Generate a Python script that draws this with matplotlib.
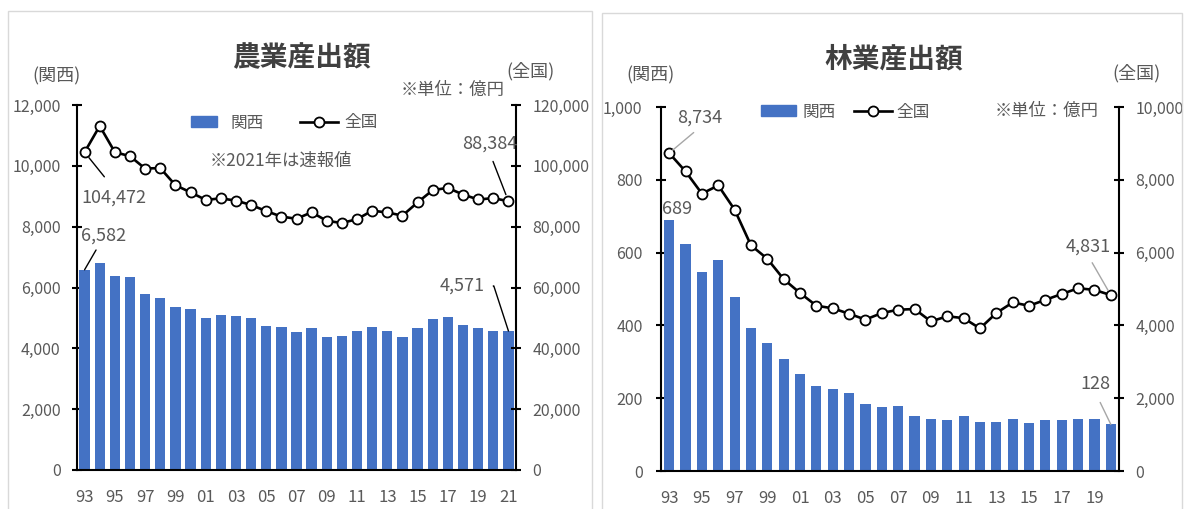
import matplotlib
matplotlib.use('Agg')
import matplotlib.pyplot as plt
from matplotlib.patches import Rectangle, Patch
from matplotlib.lines import Line2D
import numpy as np

plt.rcParams['font.family'] = ['Noto Sans CJK JP', 'DejaVu Sans']

W, H = 1184, 509
BLUE = '#4472C4'
GRAY = '#595959'

#--------------------------------------------------------------------
# data (億円)
agri_years = ['93', '94', '95', '96', '97', '98', '99', '00', '01', '02',
              '03', '04', '05', '06', '07', '08', '09', '10', '11', '12',
              '13', '14', '15', '16', '17', '18', '19', '20', '21']
agri_kansai = [6582, 6790, 6370, 6330, 5800, 5660, 5370, 5300, 5000, 5110,
               5070, 5000, 4740, 4710, 4530, 4680, 4380, 4410, 4570, 4700,
               4570, 4380, 4680, 4970, 5040, 4770, 4660, 4560, 4571]
agri_zenkoku = [104472, 113103, 104498, 103166, 99113, 99264, 93638, 91295,
                88813, 89297, 88565, 87136, 85119, 83322, 82585, 84736, 81902,
                81214, 82463, 85251, 84668, 83639, 87979, 92025, 92742, 90558,
                88938, 89370, 88384]

forest_years = ['93', '94', '95', '96', '97', '98', '99', '00', '01', '02',
                '03', '04', '05', '06', '07', '08', '09', '10', '11', '12',
                '13', '14', '15', '16', '17', '18', '19', '20']
forest_kansai = [689, 623, 548, 580, 477, 392, 352, 308, 267, 234, 224, 215,
                 185, 176, 179, 152, 144, 140, 152, 135, 135, 142, 132, 139,
                 139, 144, 144, 128]
forest_zenkoku = [8734, 8230, 7620, 7845, 7180, 6200, 5830, 5270, 4890, 4540,
                  4470, 4320, 4160, 4340, 4430, 4450, 4110, 4250, 4200, 3917,
                  4340, 4630, 4540, 4702, 4863, 5020, 4976, 4831]

agri_lticks = [0, 2000, 4000, 6000, 8000, 10000, 12000]
agri_rticks = [0, 20000, 40000, 60000, 80000, 100000, 120000]
forest_lticks = [0, 200, 400, 600, 800, 1000]
forest_rticks = [0, 2000, 4000, 6000, 8000, 10000]


def ftext(x, y, s, **kw):
    # place text by image pixel position (y from top)
    kw.setdefault('color', GRAY)
    fig.text(x / W, 1 - y / H, s, **kw)


#--------------------------------------------------------------------
def panel(px, years, kansai, zenkoku, lticks, rticks, lpad, bw):
    x0, x1, ytop, ybot = px
    ax = fig.add_axes([x0 / W, 1 - ybot / H, (x1 - x0) / W, (ybot - ytop) / H])
    x = np.arange(len(years))
    ax.bar(x, kansai, width=bw, color=BLUE, zorder=2)
    ax.set_xlim(-0.5, len(years) - 0.5)
    ax.set_ylim(lticks[0], lticks[-1])
    ax.set_yticks(lticks)
    ax.set_yticklabels([f'{v:,}' for v in lticks])
    ax.set_xticks(x[::2])
    ax.set_xticklabels(years[::2])

    ax2 = ax.twinx()
    ax2.plot(x, zenkoku, color='k', lw=1.9, marker='o', ms=7.2,
             mfc='white', mec='k', mew=1.3, zorder=3, clip_on=False)
    ax2.set_ylim(rticks[0], rticks[-1])
    ax2.set_yticks(rticks)
    ax2.set_yticklabels([f'{v:,}' for v in rticks])

    for a in (ax, ax2):
        a.patch.set_visible(False)
        a.spines['top'].set_visible(False)
        for s in a.spines.values():
            s.set_linewidth(1.5)
    ax.spines['right'].set_visible(False)
    ax2.spines['left'].set_visible(False)
    ax2.spines['bottom'].set_visible(False)

    ax.tick_params(axis='y', direction='inout', length=7.5, width=1.5,
                   labelsize=11.5, labelcolor=GRAY, pad=lpad)
    ax2.tick_params(axis='y', direction='inout', length=7.5, width=1.5,
                    labelsize=11.5, labelcolor=GRAY, pad=8)
    ax.tick_params(axis='x', length=0, labelsize=12, labelcolor=GRAY, pad=14)
    return ax, ax2


def note(a, s, xy, off, col, relpos=(0.5, 0), sa=2, sb=3, conn=None):
    if col is None:
        a.annotate(s, xy=xy, xytext=off, textcoords='offset pixels',
                   ha='center', va='center', fontsize=13, color=GRAY)
        return
    props = dict(arrowstyle='-', color=col, lw=1.0, relpos=relpos,
                 shrinkA=sa, shrinkB=sb)
    if conn:
        props['connectionstyle'] = conn
    a.annotate(s, xy=xy, xytext=off, textcoords='offset pixels',
               ha='center', va='center', fontsize=13, color=GRAY,
               arrowprops=props)


#--------------------------------------------------------------------
fig = plt.figure(figsize=(W / 100, H / 100), dpi=100)

# panel frames
fig.patches.append(Rectangle((8 / W, -0.02), 584 / W, 1.02 - 11 / H,
                             transform=fig.transFigure, fill=False,
                             edgecolor='#D9D9D9', lw=1.0))
fig.patches.append(Rectangle((602 / W, -0.02), 580 / W, 1.02 - 13 / H,
                             transform=fig.transFigure, fill=False,
                             edgecolor='#D9D9D9', lw=1.0))

# ---- 農業産出額
ax, ax2 = panel((77, 516, 105, 470), agri_years, agri_kansai, agri_zenkoku,
                agri_lticks, agri_rticks, 8, 0.68)
ftext(301, 58, '農業産出額', fontsize=20, weight='bold', color='#404040',
      ha='center', va='center')
ftext(57, 76, '(関西)', fontsize=13, ha='center', va='center')
ftext(531, 71, '(全国)', fontsize=13, ha='center', va='center')
ftext(505, 90, '※単位：億円', fontsize=12.5, ha='right', va='center')
ftext(281, 161, '※2021年は速報値', fontsize=12.5, ha='center', va='center')

fig.legend(handles=[Patch(color=BLUE)], labels=['関西'], loc='center left',
           bbox_to_anchor=(191 / W, 1 - 123 / H), frameon=False,
           borderpad=0, borderaxespad=0, handlelength=1.55, handleheight=0.65,
           handletextpad=0.8, fontsize=12, labelcolor=GRAY)
fig.legend(handles=[Line2D([], [], color='k', lw=1.9, marker='o', ms=7.2,
                           mfc='white', mec='k', mew=1.3)],
           labels=['全国'], loc='center left',
           bbox_to_anchor=(300 / W, 1 - 123 / H), frameon=False,
           borderpad=0, borderaxespad=0, handlelength=2.3,
           handletextpad=0.35, fontsize=12, labelcolor=GRAY)

note(ax2, f'{agri_zenkoku[0]:,}', (0, agri_zenkoku[0]), (29, -45), 'k',
     relpos=(0.5, 1), sa=8, sb=5)
note(ax, f'{agri_kansai[0]:,}', (0, agri_kansai[0]), (19, 34), 'k',
     relpos=(0.4, 0), sa=2, sb=0)
n = len(agri_years) - 1
note(ax2, f'{agri_zenkoku[n]:,}', (n, agri_zenkoku[n]), (-19, 58), 'k',
     relpos=(0.5, 0), sa=5, sb=5)
note(ax, f'{agri_kansai[n]:,}', (n, agri_kansai[n]), (-46, 45), 'k',
     relpos=(1, 0.5), sa=4, sb=0, conn='angle,angleA=0,angleB=108,rad=0')

# ---- 林業産出額
bx, bx2 = panel((661, 1119, 107, 471), forest_years, forest_kansai,
                forest_zenkoku, forest_lticks, forest_rticks, 9.5, 0.62)
ftext(894, 59, '林業産出額', fontsize=20, weight='bold', color='#404040',
      ha='center', va='center')
ftext(650, 75, '(関西)', fontsize=13, ha='center', va='center')
ftext(1136, 73, '(全国)', fontsize=13, ha='center', va='center')
ftext(1099, 111, '※単位：億円', fontsize=12.5, ha='right', va='center')

fig.legend(handles=[Patch(color=BLUE)], labels=['関西'], loc='center left',
           bbox_to_anchor=(761 / W, 1 - 112 / H), frameon=False,
           borderpad=0, borderaxespad=0, handlelength=2.1, handleheight=0.65,
           handletextpad=0.4, fontsize=12, labelcolor=GRAY)
fig.legend(handles=[Line2D([], [], color='k', lw=1.9, marker='o', ms=7.2,
                           mfc='white', mec='k', mew=1.3)],
           labels=['全国'], loc='center left',
           bbox_to_anchor=(854 / W, 1 - 112 / H), frameon=False,
           borderpad=0, borderaxespad=0, handlelength=2.3,
           handletextpad=0.25, fontsize=12, labelcolor=GRAY)

note(bx2, f'{forest_zenkoku[0]:,}', (0, forest_zenkoku[0]), (31, 35),
     '#A6A6A6', sa=3, sb=3)
note(bx, f'{forest_kansai[0]:,}', (0, forest_kansai[0]), (8, 11), None)
m = len(forest_years) - 1
note(bx2, f'{forest_zenkoku[m]:,}', (m, forest_zenkoku[m]), (-23, 49),
     '#A6A6A6', sa=4, sb=4)
note(bx, f'{forest_kansai[m]:,}', (m, forest_kansai[m]), (-15, 40),
     '#A6A6A6', sa=5, sb=0)

fig.savefig('out.png', dpi=100)
